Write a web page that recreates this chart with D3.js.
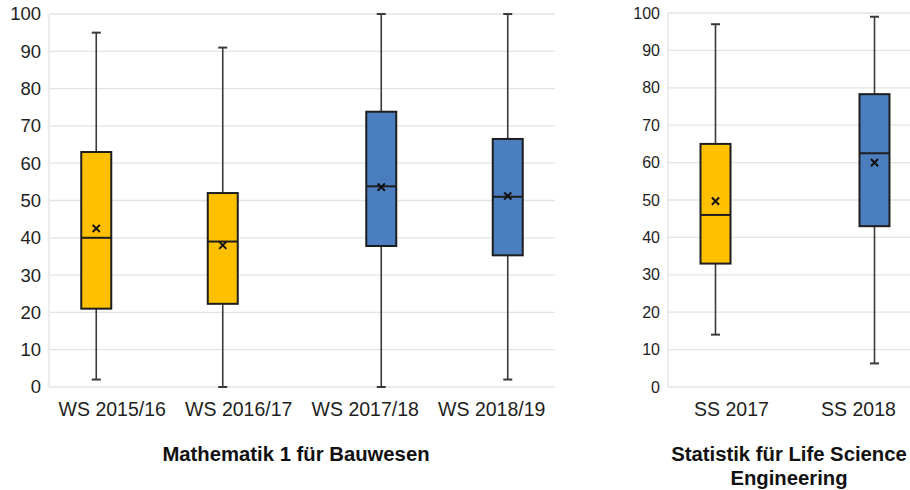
<!DOCTYPE html>
<html>
<head>
<meta charset="utf-8">
<script src="https://cdn.jsdelivr.net/npm/d3@7"></script>
<style>
  body { margin: 0; background: #fff; }
  svg { display: block; font-family: "Liberation Sans", Arial, sans-serif; }
</style>
</head>
<body>
<svg id="chart" width="910" height="490"></svg>
<script>
// Mathematik 1 für Bauwesen
const mathCats = ["WS 2015/16", "WS 2016/17", "WS 2017/18", "WS 2018/19"];
const mathSeries = [0, 0, 1, 1];
const mathMin = [2, 0, 0, 2];
const mathQ1 = [21, 22.3, 37.8, 35.3];
const mathMed = [40, 39, 53.8, 51];
const mathQ3 = [63, 52, 73.8, 66.5];
const mathMax = [95, 91, 100, 100];
const mathMean = [42.5, 38, 53.6, 51.2];

// Statistik für Life Science Engineering
const statCats = ["SS 2017", "SS 2018"];
const statSeries = [0, 1];
const statMin = [14, 6.3];
const statQ1 = [33, 43];
const statMed = [46, 62.5];
const statQ3 = [65, 78.3];
const statMax = [97, 99];
const statMean = [49.7, 60];

const yTicks = [0, 10, 20, 30, 40, 50, 60, 70, 80, 90, 100];
const seriesColors = ["#ffc000", "#4a7ebf"];

const svg = d3.select("#chart");

function drawPanel(opt) {
  const {cats, series, min, q1, med, q3, max, mean, left, right, top, bottom, tickSize, title} = opt;
  const g = svg.append("g");

  const x = d3.scaleBand().domain(cats).range([left, right]);
  const sx = d3.scalePoint().domain([0, 1]).range([x.bandwidth() / 2 - 16, x.bandwidth() / 2 + 16]);
  const y = d3.scaleLinear().domain([0, 100]).range([bottom, top]);
  const boxW = 30, capW = 9;

  // grid
  g.selectAll("line.grid")
    .data(yTicks)
    .join("line")
    .attr("class", "grid")
    .attr("x1", left)
    .attr("x2", right)
    .attr("y1", d => y(d))
    .attr("y2", d => y(d))
    .attr("stroke", "#e3e3e3")
    .attr("stroke-width", 1.3);
  g.append("line")
    .attr("x1", left).attr("x2", left)
    .attr("y1", y(100)).attr("y2", y(0))
    .attr("stroke", "#e3e3e3")
    .attr("stroke-width", 1.3);

  // y axis
  const yAxis = d3.axisLeft(y).tickValues(yTicks).tickSize(0).tickPadding(0);
  const ya = g.append("g").attr("transform", `translate(${left - 8},0)`).call(yAxis);
  ya.select(".domain").remove();
  ya.selectAll("text")
    .attr("font-size", tickSize)
    .attr("font-family", "Liberation Sans, Arial, sans-serif")
    .attr("fill", "#1e1e1e");

  // x axis
  const xAxis = d3.axisBottom(x).tickSize(0).tickPadding(0);
  const xa = g.append("g").attr("transform", `translate(0,${bottom + 29})`).call(xAxis);
  xa.select(".domain").remove();
  xa.selectAll("text")
    .attr("dy", 0)
    .attr("font-size", 19.5)
    .attr("font-family", "Liberation Sans, Arial, sans-serif")
    .attr("fill", "#1e1e1e");

  const cx = i => x(cats[i]) + sx(series[i]);
  const idx = d3.range(cats.length);

  const boxes = g.selectAll("g.box").data(idx).join("g").attr("class", "box");

  // whiskers
  boxes.append("line")
    .attr("x1", cx).attr("x2", cx)
    .attr("y1", i => y(max[i])).attr("y2", i => y(q3[i]))
    .attr("stroke", "#3a3a3a").attr("stroke-width", 1.6);
  boxes.append("line")
    .attr("x1", cx).attr("x2", cx)
    .attr("y1", i => y(q1[i])).attr("y2", i => y(min[i]))
    .attr("stroke", "#3a3a3a").attr("stroke-width", 1.6);
  boxes.append("line")
    .attr("x1", i => cx(i) - capW / 2).attr("x2", i => cx(i) + capW / 2)
    .attr("y1", i => y(max[i])).attr("y2", i => y(max[i]))
    .attr("stroke", "#3a3a3a").attr("stroke-width", 2);
  boxes.append("line")
    .attr("x1", i => cx(i) - capW / 2).attr("x2", i => cx(i) + capW / 2)
    .attr("y1", i => y(min[i])).attr("y2", i => y(min[i]))
    .attr("stroke", "#3a3a3a").attr("stroke-width", 2);

  // box
  boxes.append("rect")
    .attr("x", i => cx(i) - boxW / 2)
    .attr("width", boxW)
    .attr("y", i => y(q3[i]))
    .attr("height", i => y(q1[i]) - y(q3[i]))
    .attr("fill", i => seriesColors[series[i]])
    .attr("stroke", "#1e1e1e")
    .attr("stroke-width", 2);
  boxes.append("line")
    .attr("x1", i => cx(i) - boxW / 2).attr("x2", i => cx(i) + boxW / 2)
    .attr("y1", i => y(med[i])).attr("y2", i => y(med[i]))
    .attr("stroke", "#1e1e1e").attr("stroke-width", 2);

  // mean marker
  const m = 3.6;
  boxes.append("path")
    .attr("d", i => {
      const px = cx(i), py = y(mean[i]);
      return `M${px - m},${py - m}L${px + m},${py + m}M${px - m},${py + m}L${px + m},${py - m}`;
    })
    .attr("stroke", "#111").attr("stroke-width", 2);

  // title
  const t = g.append("text")
    .attr("text-anchor", "middle")
    .attr("font-size", 20.3)
    .attr("font-weight", "bold")
    .attr("fill", "#111");
  title.forEach((line, k) => {
    t.append("tspan").attr("x", opt.titleX).attr("y", 461 + k * 24).text(line);
  });
}

drawPanel({
  cats: mathCats, series: mathSeries, min: mathMin, q1: mathQ1, med: mathMed,
  q3: mathQ3, max: mathMax, mean: mathMean,
  left: 49, right: 555, top: 14, bottom: 387, tickSize: 18.5,
  title: ["Mathematik 1 für Bauwesen"], titleX: 296
});

drawPanel({
  cats: statCats, series: statSeries, min: statMin, q1: statQ1, med: statMed,
  q3: statQ3, max: statMax, mean: statMean,
  left: 668, right: 922, top: 13, bottom: 387, tickSize: 16,
  title: ["Statistik für Life Science", "Engineering"], titleX: 789
});
</script>
</body>
</html>
